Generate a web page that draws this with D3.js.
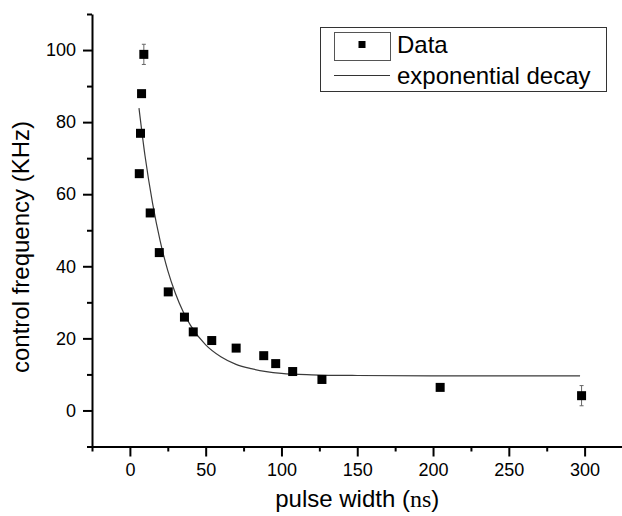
<!DOCTYPE html>
<html>
	<head>
		<meta charset="utf-8">
		<script src="https://cdn.jsdelivr.net/npm/d3@7"></script>
		<style>
			body { margin: 0; background: #fff; }
			svg { display: block; font-family: Arial, "Liberation Sans", sans-serif; }
		</style>
	</head>
	<body>
		<script>
			// measured points (pulse width in ns, control frequency in KHz)
			var pulseWidth = [6.2, 7.0, 7.7, 9.2, 13.4, 19.4, 25.3, 36.0, 41.8, 54.0, 70.1, 88.3, 96.2, 107.4, 126.7, 204.7, 298];
			var frequency  = [65.7, 76.9, 87.9, 98.8, 54.8, 43.8, 32.9, 25.9, 21.8, 19.4, 17.3, 15.2, 13.0, 10.8, 8.6, 6.4, 4.1];
			var errorBar   = [0, 0, 0, 2.8, 0, 0, 0, 0, 0, 0, 0, 0, 0, 0, 0, 0, 2.8];

			// fitted curve
			var fitX = [6, 10, 15, 20, 25, 30, 35, 40, 50, 60, 70, 80, 90, 100, 120, 150, 200, 250, 297];
			var fitY = [83.9, 70.6, 57.4, 47.0, 38.8, 32.5, 27.5, 23.6, 18.2, 14.9, 12.8, 11.6, 10.8, 10.3, 9.9, 9.7, 9.6, 9.6, 9.6];

			var xMajor = [0, 50, 100, 150, 200, 250, 300];
			var xMinor = [-25, 25, 75, 125, 175, 225, 275, 325];
			var yMajor = [0, 20, 40, 60, 80, 100];
			var yMinor = [-10, 10, 30, 50, 70, 90, 110];

			var legendLabels = ["Data", "exponential decay"];

			var svg = d3.select("body").append("svg")
						.attr("width", 622)
						.attr("height", 516);

			var x = d3.scaleLinear().domain([-25, 325]).range([92, 622.5]);
			var y = d3.scaleLinear().domain([-10, 110]).range([446.5, 14]);

			// x axis
			var gx = svg.append("g").attr("transform", "translate(0," + y(-10) + ")");
			gx.call(d3.axisBottom(x).tickValues(xMajor).tickSize(10).tickSizeOuter(0).tickPadding(7));
			var gx2 = svg.append("g").attr("transform", "translate(0," + y(-10) + ")");
			gx2.call(d3.axisBottom(x).tickValues(xMinor).tickSize(5).tickSizeOuter(0).tickFormat(""));
			gx2.select(".domain").remove();

			// y axis
			var gy = svg.append("g").attr("transform", "translate(" + x(-25) + ",0)");
			gy.call(d3.axisLeft(y).tickValues(yMajor).tickSize(9).tickSizeOuter(0).tickPadding(7));
			var gy2 = svg.append("g").attr("transform", "translate(" + x(-25) + ",0)");
			gy2.call(d3.axisLeft(y).tickValues(yMinor).tickSize(5).tickSizeOuter(0).tickFormat(""));
			gy2.select(".domain").remove();

			svg.selectAll(".domain").attr("stroke", "#000").attr("stroke-width", 2);
			svg.selectAll(".tick line").attr("stroke", "#000").attr("stroke-width", 2);
			svg.selectAll(".tick text")
				.attr("font-family", "Arial, 'Liberation Sans', sans-serif")
				.attr("font-size", 18)
				.attr("fill", "#000");

			// axis titles
			var xt = svg.append("text")
						.attr("x", x(150))
						.attr("y", 507)
						.attr("text-anchor", "middle")
						.attr("font-size", 24);
			xt.append("tspan").text("pulse width (");
			xt.append("tspan").attr("font-family", "'Liberation Serif', 'DejaVu Serif', serif").text("ns");
			xt.append("tspan").text(")");

			svg.append("text")
				.attr("transform", "translate(29," + 247 + ") rotate(-90)")
				.attr("text-anchor", "middle")
				.attr("font-size", 24)
				.text("control frequency (KHz)");

			// fit line
			var fit = fitX.map(function(d, i){ return [d, fitY[i]]; });
			svg.append("path")
				.datum(fit)
				.attr("fill", "none")
				.attr("stroke", "#3a3a3a")
				.attr("stroke-width", 1.2)
				.attr("d", d3.line()
							.x(function(d){ return x(d[0]); })
							.y(function(d){ return y(d[1]); })
							.curve(d3.curveMonotoneX));

			// data
			var pts = pulseWidth.map(function(d, i){ return {x: d, y: frequency[i], e: errorBar[i]}; });
			var s = 9;
			var eb = svg.selectAll("g.err").data(pts.filter(function(d){ return d.e > 0; })).enter().append("g").attr("class", "err");
			eb.append("line")
				.attr("x1", function(d){ return x(d.x); })
				.attr("x2", function(d){ return x(d.x); })
				.attr("y1", function(d){ return y(d.y + d.e); })
				.attr("y2", function(d){ return y(d.y - d.e); })
				.attr("stroke", "#666")
				.attr("stroke-width", 1);
			eb.selectAll("line.cap").data(function(d){ return [d.y + d.e, d.y - d.e].map(function(v){ return {x: d.x, v: v}; }); })
				.enter().append("line")
				.attr("class", "cap")
				.attr("x1", function(d){ return x(d.x) - 2; })
				.attr("x2", function(d){ return x(d.x) + 2; })
				.attr("y1", function(d){ return y(d.v); })
				.attr("y2", function(d){ return y(d.v); })
				.attr("stroke", "#666")
				.attr("stroke-width", 1);

			svg.selectAll("rect.pt").data(pts).enter().append("rect")
				.attr("class", "pt")
				.attr("x", function(d){ return x(d.x) - s / 2; })
				.attr("y", function(d){ return y(d.y) - s / 2; })
				.attr("width", s)
				.attr("height", s)
				.attr("fill", "#000");

			// legend
			var lg = svg.append("g");
			lg.append("rect")
				.attr("x", 320.5).attr("y", 27.5)
				.attr("width", 286).attr("height", 64)
				.attr("fill", "#fff")
				.attr("stroke", "#333")
				.attr("stroke-width", 1);
			lg.append("rect")
				.attr("x", 334.5).attr("y", 32.5)
				.attr("width", 56).attr("height", 28)
				.attr("fill", "none")
				.attr("stroke", "#555")
				.attr("stroke-width", 1);
			lg.append("rect")
				.attr("x", 358.5).attr("y", 41)
				.attr("width", 7).attr("height", 7)
				.attr("fill", "#000");
			lg.append("line")
				.attr("x1", 334).attr("x2", 390)
				.attr("y1", 75.5).attr("y2", 75.5)
				.attr("stroke", "#333")
				.attr("stroke-width", 1);
			lg.selectAll("text").data(legendLabels).enter().append("text")
				.attr("x", 397)
				.attr("y", function(d, i){ return 53 + i * 31; })
				.attr("font-size", 24)
				.text(function(d){ return d; });
		</script>
	</body>
</html>
